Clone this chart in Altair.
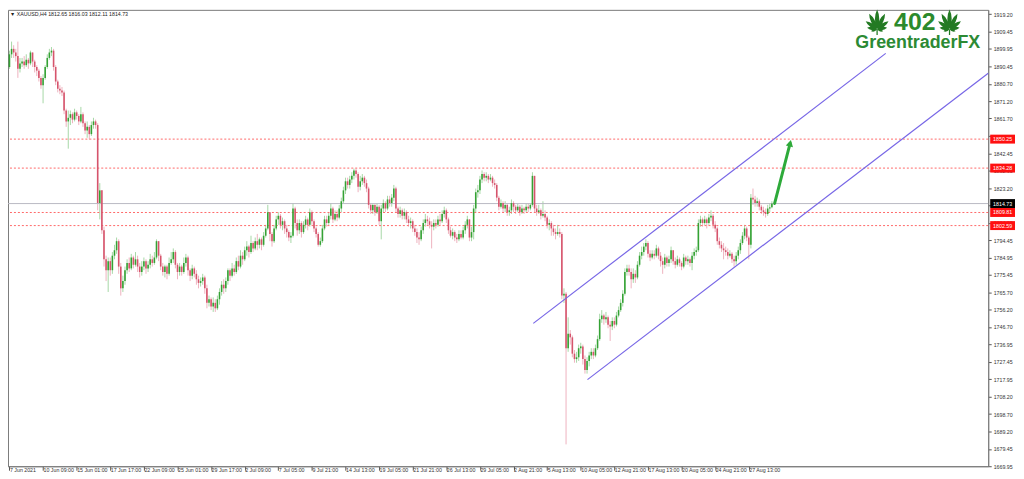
import altair as alt
import pandas as pd
import math

# ---------------- data ----------------
OPEN0 = 1890.0
CLOSE = [
    1897, 1900, 1898, 1896, 1889, 1892, 1893, 1891, 1894, 1892,
    1898, 1893, 1890, 1888, 1884, 1880, 1884, 1890, 1895, 1898,
    1899, 1890, 1882, 1878, 1877, 1876, 1866, 1860, 1862, 1864,
    1861, 1865, 1863, 1860, 1864, 1859, 1855, 1857, 1853, 1858,
    1860, 1858, 1815, 1822, 1800, 1784, 1778, 1783, 1778, 1786,
    1789, 1794, 1780, 1768, 1772, 1778, 1782, 1779, 1785, 1781,
    1784, 1780, 1777, 1780, 1783, 1779, 1781, 1784, 1782, 1785,
    1794, 1786, 1780, 1777, 1780, 1776, 1782, 1784, 1788, 1781,
    1777, 1780, 1777, 1782, 1785, 1778, 1775, 1779, 1776, 1773,
    1771, 1772, 1774, 1768, 1760, 1762, 1758, 1760, 1757, 1762,
    1766, 1770, 1768, 1772, 1778, 1775, 1779, 1777, 1783, 1780,
    1786, 1784, 1789, 1791, 1788, 1793, 1790, 1794, 1792, 1795,
    1792, 1797, 1801, 1810, 1798, 1794, 1801, 1806, 1808, 1803,
    1805, 1801, 1799, 1796, 1797, 1812, 1804, 1800, 1804, 1799,
    1803, 1806, 1803, 1810, 1805, 1801, 1798, 1792, 1794, 1801,
    1806, 1804, 1808, 1812, 1806, 1809, 1807, 1812, 1816, 1822,
    1827, 1825, 1828, 1830, 1833, 1831, 1824, 1827, 1829, 1826,
    1823, 1814, 1811, 1814, 1810, 1813, 1805, 1812, 1815, 1812,
    1817, 1815, 1818, 1823, 1812, 1809, 1811, 1808, 1810, 1806,
    1804, 1805, 1801, 1799, 1796, 1795, 1800, 1804, 1806, 1805,
    1803, 1802, 1804, 1803, 1806, 1805, 1809, 1811, 1806, 1800,
    1797, 1799, 1796, 1795, 1798, 1796, 1800, 1803, 1806, 1796,
    1799, 1812, 1821, 1822, 1828, 1831, 1829, 1830, 1828, 1829,
    1826, 1825, 1818, 1813, 1815, 1812, 1814, 1810, 1811, 1815,
    1813, 1811, 1813, 1810, 1812, 1811, 1813, 1812, 1814, 1830,
    1812, 1810, 1811, 1808, 1809, 1807, 1803, 1804, 1801, 1799,
    1798, 1799, 1798, 1764, 1765, 1735, 1743, 1741, 1732, 1729,
    1730, 1735, 1736, 1729, 1723, 1728, 1731, 1733, 1731, 1735,
    1740, 1751, 1753, 1751, 1752, 1748, 1747, 1750, 1748, 1753,
    1756, 1760, 1765, 1777, 1779, 1777, 1773, 1776, 1774, 1781,
    1786, 1788, 1791, 1793, 1787, 1785, 1787, 1786, 1790, 1786,
    1783, 1781, 1785, 1782, 1784, 1789, 1783, 1781, 1784, 1782,
    1780, 1785, 1783, 1784, 1782, 1786, 1788, 1789, 1804, 1806,
    1804, 1806, 1804, 1807, 1808, 1803, 1801, 1794, 1792, 1790,
    1789, 1788, 1786, 1787, 1784, 1783, 1786, 1789, 1793, 1797,
    1801, 1796, 1792, 1818, 1817, 1815, 1816, 1813, 1811, 1810,
    1809, 1812, 1812.65, 1814.73,
]
HIGH = [
    1899, 1904, 1902, 1900, 1904, 1895, 1895, 1896, 1897, 1895,
    1899, 1898, 1894, 1891, 1889, 1885, 1886, 1891, 1897, 1900,
    1901, 1900, 1891, 1883, 1880, 1879, 1877, 1867, 1866, 1866,
    1865, 1867, 1866, 1864, 1868, 1865, 1860, 1860, 1858, 1860,
    1862, 1861, 1859, 1826, 1822, 1802, 1786, 1785, 1785, 1788,
    1792, 1796, 1795, 1782, 1775, 1780, 1784, 1785, 1787, 1786,
    1788, 1786, 1782, 1783, 1785, 1784, 1783, 1787, 1786, 1788,
    1795, 1794, 1787, 1782, 1781, 1781, 1785, 1788, 1790, 1789,
    1782, 1782, 1781, 1785, 1787, 1786, 1779, 1781, 1780, 1778,
    1775, 1774, 1776, 1775, 1770, 1764, 1763, 1763, 1762, 1764,
    1768, 1772, 1773, 1774, 1779, 1779, 1782, 1781, 1785, 1786,
    1789, 1788, 1791, 1794, 1792, 1797, 1794, 1796, 1798, 1796,
    1796, 1799, 1803, 1814, 1810, 1799, 1803, 1808, 1810, 1809,
    1807, 1806, 1803, 1800, 1799, 1815, 1813, 1806, 1806, 1805,
    1805, 1808, 1807, 1812, 1811, 1806, 1802, 1799, 1796, 1803,
    1808, 1808, 1810, 1815, 1813, 1811, 1811, 1814, 1818, 1824,
    1829, 1829, 1830, 1832, 1834, 1834, 1832, 1830, 1831, 1830,
    1828, 1824, 1815, 1815, 1815, 1815, 1814, 1814, 1817, 1816,
    1819, 1819, 1820, 1825, 1824, 1813, 1813, 1812, 1812, 1811,
    1808, 1807, 1806, 1803, 1801, 1799, 1802, 1806, 1809, 1808,
    1807, 1805, 1806, 1806, 1808, 1809, 1811, 1813, 1812, 1807,
    1802, 1801, 1800, 1798, 1800, 1800, 1802, 1805, 1808, 1806,
    1802, 1814, 1823, 1825, 1830, 1833, 1832, 1832, 1831, 1831,
    1830, 1828, 1826, 1819, 1817, 1816, 1816, 1815, 1813, 1817,
    1816, 1814, 1815, 1814, 1814, 1813, 1815, 1815, 1815, 1832,
    1830, 1814, 1814, 1812, 1816, 1811, 1808, 1806, 1805, 1803,
    1801, 1803, 1801, 1799, 1768, 1766, 1752, 1745, 1742, 1734,
    1733, 1737, 1738, 1737, 1731, 1730, 1733, 1735, 1735, 1737,
    1742, 1754, 1756, 1754, 1755, 1753, 1750, 1752, 1752, 1755,
    1758, 1762, 1767, 1779, 1781, 1781, 1779, 1779, 1778, 1783,
    1788, 1791, 1793, 1795, 1794, 1789, 1789, 1789, 1792, 1791,
    1788, 1785, 1787, 1786, 1786, 1791, 1789, 1785, 1786, 1785,
    1783, 1787, 1786, 1786, 1785, 1788, 1790, 1791, 1806, 1808,
    1807, 1808, 1807, 1809, 1811, 1809, 1805, 1802, 1796, 1794,
    1793, 1791, 1790, 1789, 1788, 1786, 1788, 1791, 1795, 1799,
    1803, 1802, 1797, 1820, 1823, 1819, 1818, 1817, 1814, 1813,
    1812, 1814, 1815, 1816.03,
]
LOW = [
    1889, 1895, 1895, 1893, 1884, 1887, 1890, 1889, 1890, 1889,
    1891, 1890, 1887, 1885, 1882, 1878, 1870, 1883, 1889, 1894,
    1896, 1888, 1880, 1876, 1875, 1874, 1864, 1857, 1845, 1858,
    1859, 1860, 1861, 1858, 1859, 1857, 1853, 1851, 1850, 1852,
    1856, 1856, 1811, 1806, 1798, 1780, 1772, 1766, 1775, 1776,
    1784, 1787, 1776, 1764, 1766, 1770, 1776, 1777, 1778, 1779,
    1780, 1777, 1774, 1775, 1778, 1776, 1777, 1779, 1780, 1781,
    1784, 1783, 1778, 1775, 1774, 1773, 1775, 1781, 1782, 1779,
    1773, 1775, 1775, 1776, 1780, 1775, 1772, 1773, 1774, 1770,
    1768, 1769, 1770, 1765, 1757, 1758, 1756, 1755, 1755, 1756,
    1759, 1764, 1765, 1766, 1770, 1772, 1774, 1775, 1776, 1778,
    1779, 1781, 1783, 1786, 1785, 1787, 1788, 1789, 1789, 1790,
    1789, 1791, 1796, 1800, 1794, 1791, 1793, 1800, 1803, 1801,
    1800, 1798, 1796, 1794, 1793, 1796, 1801, 1797, 1798, 1796,
    1798, 1801, 1800, 1802, 1803, 1799, 1796, 1791, 1791, 1793,
    1800, 1802, 1803, 1806, 1804, 1805, 1805, 1806, 1810, 1815,
    1820, 1823, 1823, 1826, 1828, 1829, 1821, 1822, 1825, 1824,
    1821, 1812, 1809, 1809, 1808, 1809, 1803, 1795, 1810, 1810,
    1811, 1813, 1813, 1816, 1810, 1807, 1807, 1806, 1806, 1804,
    1802, 1801, 1799, 1797, 1793, 1792, 1794, 1798, 1802, 1803,
    1801, 1790, 1800, 1801, 1802, 1803, 1804, 1807, 1804, 1798,
    1796, 1795, 1794, 1793, 1794, 1795, 1795, 1798, 1801, 1794,
    1794, 1795, 1810, 1818, 1820, 1826, 1827, 1827, 1826, 1827,
    1824, 1823, 1816, 1811, 1812, 1810, 1810, 1808, 1808, 1809,
    1810, 1809, 1810, 1808, 1809, 1809, 1810, 1810, 1811, 1813,
    1810, 1808, 1809, 1806, 1807, 1805, 1801, 1800, 1797, 1797,
    1795, 1797, 1796, 1762, 1760, 1682, 1733, 1737, 1730, 1727,
    1727, 1728, 1732, 1726, 1721, 1721, 1725, 1729, 1729, 1730,
    1734, 1739, 1749, 1748, 1749, 1746, 1739, 1745, 1746, 1747,
    1752, 1755, 1758, 1764, 1775, 1775, 1768, 1771, 1771, 1773,
    1780, 1784, 1786, 1789, 1785, 1783, 1784, 1784, 1785, 1784,
    1780, 1776, 1779, 1780, 1780, 1782, 1781, 1779, 1780, 1780,
    1778, 1779, 1781, 1781, 1780, 1778, 1784, 1786, 1788, 1802,
    1802, 1803, 1801, 1803, 1805, 1801, 1799, 1792, 1790, 1788,
    1784, 1786, 1784, 1785, 1782, 1780, 1781, 1784, 1787, 1792,
    1795, 1794, 1784, 1790, 1814, 1813, 1813, 1811, 1809, 1808,
    1807, 1808, 1810, 1812.11,
]

X_TICK_LABELS = [
    "7 Jun 2021", "10 Jun 09:00", "15 Jun 01:00", "17 Jun 17:00", "22 Jun 09:00",
    "25 Jun 01:00", "29 Jun 17:00", "2 Jul 09:00", "7 Jul 05:00", "9 Jul 21:00",
    "14 Jul 13:00", "19 Jul 05:00", "21 Jul 21:00", "26 Jul 13:00", "29 Jul 05:00",
    "2 Aug 21:00", "5 Aug 13:00", "10 Aug 05:00", "12 Aug 21:00", "17 Aug 13:00",
    "20 Aug 05:00", "24 Aug 21:00", "27 Aug 13:00",
]
BARS_PER_TICK = 16
Y_TICKS = [1669.95, 1679.45, 1689.20, 1698.70, 1708.20, 1717.95, 1727.45, 1736.95,
           1746.70, 1756.20, 1765.70, 1775.45, 1784.95, 1794.45, 1804.20, 1813.70,
           1823.20, 1832.95, 1842.45, 1851.95, 1861.70, 1871.20, 1880.70, 1890.45,
           1899.95, 1909.45, 1919.20]

LEVELS = [1850.25, 1834.28, 1809.81, 1802.59]
CURRENT = 1814.73

# channel lines: (bar index, price) end points
CH_UPPER_X = [249.4, 417.2]
CH_UPPER_Y = [1748.7, 1897.5]
CH_LOWER_X = [275.2, 466.0]
CH_LOWER_Y = [1717.7, 1886.6]
# projected move arrow
ARROW_X = [364.3, 371.7]
ARROW_Y = [1814.8, 1848.0]

HEADER = "\u25BC XAUUSD,H4  1812.65 1816.03 1812.11 1814.73"

# ---------------- build tables ----------------
n = min(len(CLOSE), len(HIGH), len(LOW))
opens = [OPEN0] + CLOSE[: n - 1]
rows = []
for i in range(n):
    o, c = opens[i], CLOSE[i]
    rows.append(dict(i=i, o=o, c=c, h=max(HIGH[i], o, c), l=min(LOW[i], o, c), up=bool(c >= o)))
df = pd.DataFrame(rows)

W, H = 988, 460
xs = alt.Scale(domain=[-0.7, 466], nice=False, zero=False)
ys = alt.Scale(domain=[1669.95, 1921.5], nice=False, zero=False)

FONT = "Liberation Sans"
label_arr = "[" + ",".join("'" + s + "'" for s in X_TICK_LABELS) + "]"
x_axis = alt.Axis(
    values=[k * BARS_PER_TICK for k in range(len(X_TICK_LABELS))],
    labelExpr=label_arr + f"[round(datum.value/{BARS_PER_TICK})]",
    orient="bottom", grid=False, title=None, tickSize=4, tickColor="#555",
    domainColor="#7a7a7a", labelAlign="left", labelBaseline="top", labelPadding=-3,
    labelFontSize=5.3, labelFont=FONT, labelColor="#333",
    labelOverlap=False, labelFlush=False, labelBound=False,
)
y_axis = alt.Axis(
    values=Y_TICKS, format=".2f", orient="right", grid=False, title=None,
    tickSize=3, tickColor="#555", domainColor="#7a7a7a", labelPadding=2,
    labelFontSize=5.3, labelFont=FONT, labelColor="#333", labelOverlap=False,
    labelSeparation=0, labelFlush=False, labelBound=False,
)


def X(field):
    return alt.X(field, scale=xs, axis=x_axis)


def Y(field):
    return alt.Y(field, scale=ys, axis=y_axis)


GREEN_BODY, RED_BODY = "#34a234", "#d6546c"
GREEN_WICK, RED_WICK = "#a6d8a6", "#eeb2be"

base = alt.Chart(df)
wicks = base.mark_rule(strokeWidth=1).encode(
    x=X("i:Q"), y=Y("l:Q"), y2="h:Q",
    color=alt.condition("datum.up", alt.value(GREEN_WICK), alt.value(RED_WICK)),
)
bodies = base.mark_rule(strokeWidth=1.6, strokeCap="butt").encode(
    x=X("i:Q"), y=Y("o:Q"), y2="c:Q",
    color=alt.condition("datum.up", alt.value(GREEN_BODY), alt.value(RED_BODY)),
)

lev_df = pd.DataFrame({"p": LEVELS})
levels = alt.Chart(lev_df).mark_rule(color="#ff6868", strokeWidth=1, strokeDash=[2, 2]).encode(
    y=Y("p:Q")
)
cur = alt.Chart(pd.DataFrame({"p": [CURRENT]})).mark_rule(color="#b9b9c2", strokeWidth=1).encode(
    y=Y("p:Q")
)

ch_df = pd.DataFrame({
    "x": CH_UPPER_X + CH_LOWER_X,
    "y": CH_UPPER_Y + CH_LOWER_Y,
    "g": ["u", "u", "l", "l"],
})
channel = alt.Chart(ch_df).mark_line(color="#7766e6", strokeWidth=1.2).encode(
    x=X("x:Q"), y=Y("y:Q"), detail="g:N",
)

arr_df = pd.DataFrame({"x": ARROW_X, "y": ARROW_Y})
arrow = alt.Chart(arr_df).mark_line(color="#2eaa3a", strokeWidth=3, strokeCap="round").encode(
    x=X("x:Q"), y=Y("y:Q")
)
head = alt.Chart(pd.DataFrame({"x": ARROW_X[1:], "y": ARROW_Y[1:]})).mark_point(
    shape="triangle-up", filled=True, size=55, angle=14, color="#2eaa3a", opacity=1
).encode(x=X("x:Q"), y=Y("y:Q"))

# price tags on the right axis
tag_df = pd.DataFrame({
    "p": LEVELS + [CURRENT],
    "t": [f"{v:.2f}" for v in LEVELS + [CURRENT]],
    "bg": ["#ff1010"] * len(LEVELS) + ["#000000"],
})
BOX = "M-1,-0.36L1,-0.36L1,0.36L-1,0.36Z"
tags = alt.Chart(tag_df).mark_point(shape=BOX, filled=True, size=625, opacity=1, strokeWidth=0).encode(
    x=alt.value(W + 14.5), y=Y("p:Q"), color=alt.Color("bg:N", scale=None)
)
tag_txt = alt.Chart(tag_df).mark_text(
    fontSize=5.3, font=FONT, color="white", align="center", baseline="middle"
).encode(x=alt.value(W + 14.5), y=Y("p:Q"), text="t:N")

header = alt.Chart(pd.DataFrame({"t": [HEADER]})).mark_text(
    fontSize=5.3, font="Liberation Sans, DejaVu Sans", color="#222", align="left", baseline="middle"
).encode(x=alt.value(2), y=alt.value(4), text="t:N")

# logo: leaf symbol path built in a [-1, 1] box
LEAF = []
ox, oy = 0.0, 0.55
for ang, ln, wd in [(0, 1.55, 0.17), (27, 1.38, 0.16), (-27, 1.38, 0.16), (55, 1.1, 0.15),
                    (-55, 1.1, 0.15), (82, 0.8, 0.13), (-82, 0.8, 0.13),
                    (108, 0.5, 0.1), (-108, 0.5, 0.1)]:
    a = math.radians(ang)
    dx, dy = math.sin(a), -math.cos(a)
    tx, ty = ox + dx * ln, oy + dy * ln
    mx, my = ox + dx * ln * 0.55, oy + dy * ln * 0.55
    px, py = -dy * wd * 2, dx * wd * 2
    LEAF.append(f"M{ox:.3f},{oy:.3f}Q{mx+px:.3f},{my+py:.3f} {tx:.3f},{ty:.3f}"
                f"Q{mx-px:.3f},{my-py:.3f} {ox:.3f},{oy:.3f}Z")
LEAF.append("M-0.05,0.5L0.05,0.5L0.05,1L-0.05,1Z")
LEAF_PATH = "".join(LEAF)

leaf_l = alt.Chart(pd.DataFrame({"k": [0]})).mark_point(
    shape=LEAF_PATH, filled=True, size=650, color="#237a23", opacity=1, strokeWidth=0
).encode(x=alt.value(876), y=alt.value(12.5))
leaf_r = alt.Chart(pd.DataFrame({"k": [1]})).mark_point(
    shape=LEAF_PATH, filled=True, size=650, color="#237a23", opacity=1, strokeWidth=0
).encode(x=alt.value(949), y=alt.value(12.5))
logo402 = alt.Chart(pd.DataFrame({"t": ["402"]})).mark_text(
    fontSize=25, font=FONT, fontWeight="bold",
    color="#2c8a2c", align="center", baseline="alphabetic"
).encode(x=alt.value(914), y=alt.value(20), text="t:N")
logoname = alt.Chart(pd.DataFrame({"t": ["GreentraderFX"]})).mark_text(
    fontSize=18, font=FONT, fontWeight="bold",
    color="#2c8a34", align="center", baseline="alphabetic"
).encode(x=alt.value(917), y=alt.value(38), text="t:N")

chart = alt.layer(
    wicks, levels, cur, bodies, channel, arrow, head, tags, tag_txt, header,
    leaf_l, leaf_r, logo402, logoname
).properties(
    width=W, height=H,
    padding={"left": 0, "top": 0, "right": 28, "bottom": 11},
    autosize=alt.AutoSizeParams(type="none"),
).configure(background="white").configure_view(
    stroke="#7a7a7a", strokeWidth=1
).configure_axis(labelOverlap=False)

chart.save("out.html", embed_options={"renderer": "svg", "actions": False})
